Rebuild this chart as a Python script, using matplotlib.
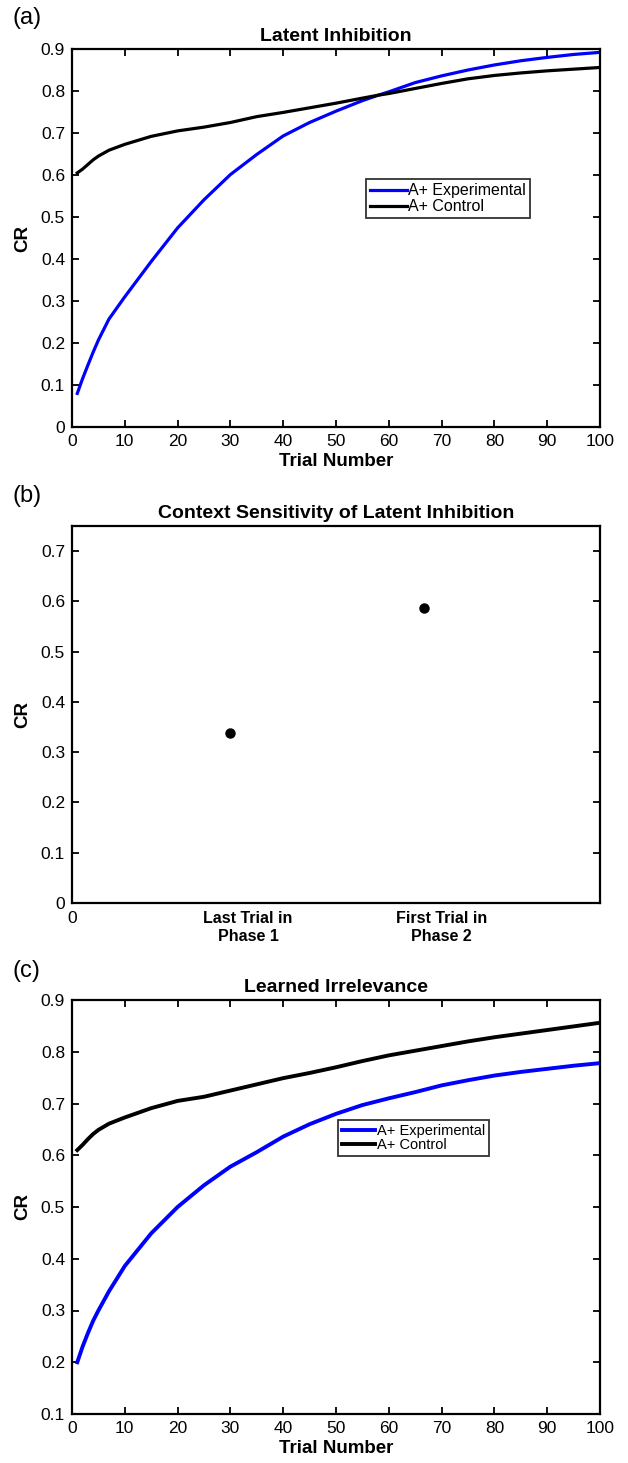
import matplotlib.pyplot as plt
from matplotlib.ticker import FuncFormatter

plt.rcParams['font.family'] = ['Liberation Sans', 'DejaVu Sans']

# (a) Latent Inhibition
trials_a = [1, 2, 3, 4, 5, 7, 10, 15, 20, 25, 30, 35, 40, 45, 50, 55, 58, 60,
            65, 70, 75, 80, 85, 90, 95, 100]
li_exp = [0.080, 0.115, 0.147, 0.178, 0.207, 0.257, 0.310, 0.394, 0.474,
          0.541, 0.601, 0.649, 0.693, 0.725, 0.752, 0.777, 0.790, 0.798,
          0.820, 0.836, 0.850, 0.862, 0.872, 0.880, 0.887, 0.892]
li_ctl = [0.605, 0.614, 0.625, 0.636, 0.645, 0.659, 0.673, 0.692, 0.705,
          0.714, 0.725, 0.739, 0.749, 0.760, 0.771, 0.783, 0.790, 0.794,
          0.806, 0.818, 0.829, 0.837, 0.843, 0.848, 0.852, 0.856]

# (b) Context sensitivity
phase_labels = ['Last Trial in\nPhase 1', 'First Trial in\nPhase 2']
phase_pos = [0.9, 2.0]
phase_cr = [0.338, 0.587]

# (c) Learned Irrelevance
trials_c = [1, 2, 3, 4, 5, 7, 10, 15, 20, 25, 30, 35, 40, 45, 50, 55, 60, 65,
            70, 75, 80, 85, 90, 95, 100]
lirr_exp = [0.200, 0.230, 0.256, 0.280, 0.300, 0.337, 0.386, 0.449, 0.500,
            0.542, 0.578, 0.606, 0.636, 0.660, 0.680, 0.697, 0.710, 0.722,
            0.735, 0.745, 0.754, 0.761, 0.767, 0.773, 0.778]
lirr_ctl = [0.610, 0.620, 0.631, 0.641, 0.649, 0.661, 0.673, 0.691, 0.705,
            0.713, 0.725, 0.737, 0.749, 0.759, 0.770, 0.782, 0.793, 0.802,
            0.811, 0.820, 0.828, 0.835, 0.842, 0.849, 0.856]

legend_labels = ['A+ Experimental', 'A+ Control']

W, H = 628, 1463
fig = plt.figure(figsize=(W / 100, H / 100), dpi=100)


def px_axes(left, top, right, bottom):
    return fig.add_axes([left / W, 1 - bottom / H, (right - left) / W, (bottom - top) / H])


def style(ax):
    ax.tick_params(direction='in', top=True, right=True, length=5, width=1.3,
                   labelsize=12.5, pad=5)
    for s in ax.spines.values():
        s.set_linewidth(1.6)


yfmt = FuncFormatter(lambda v, p: '0' if abs(v) < 1e-9 else f'{v:.1f}')

# ---- panel (a)
ax1 = px_axes(72, 49, 600, 427)
ax1.plot(trials_a, li_exp, color='#0000ff', lw=2.3, label=legend_labels[0])
ax1.plot(trials_a, li_ctl, color='black', lw=2.3, label=legend_labels[1])
ax1.set_xlim(0, 100)
ax1.set_ylim(0, 0.9)
ax1.set_xticks(range(0, 101, 10))
ax1.set_yticks([i / 10 for i in range(10)])
ax1.yaxis.set_major_formatter(yfmt)
style(ax1)
ax1.set_title('Latent Inhibition', fontsize=14, fontweight='bold', pad=6)
ax1.set_xlabel('Trial Number', fontsize=13.5, fontweight='bold', labelpad=3)
ax1.set_ylabel('CR', fontsize=13.5, fontweight='bold', labelpad=7)
leg = ax1.legend(loc='upper left', bbox_to_anchor=(0.557, 0.655), borderaxespad=0,
                 fontsize=11.5, frameon=True, fancybox=False, edgecolor='black',
                 handlelength=2.3, handletextpad=0.1, labelspacing=0.05,
                 borderpad=0.25)
leg.get_frame().set_linewidth(1.3)

# ---- panel (b)
ax2 = px_axes(72, 526, 600, 903)
ax2.plot(phase_pos, phase_cr, 'o', color='black', markersize=6.5, linestyle='none')
ax2.set_xlim(0, 3)
ax2.set_ylim(0, 0.75)
ax2.set_xticks([0, 1.0, 2.1])
ax2.set_xticklabels(['0'] + phase_labels)
ax2.set_yticks([i / 10 for i in range(8)])
ax2.yaxis.set_major_formatter(yfmt)
style(ax2)
ax2.tick_params(axis='x', length=0, pad=6)
for t in ax2.get_xticklabels()[1:]:
    t.set_fontweight('bold')
    t.set_fontsize(11.5)
ax2.set_title('Context Sensitivity of Latent Inhibition', fontsize=14,
              fontweight='bold', pad=6)
ax2.set_ylabel('CR', fontsize=13.5, fontweight='bold', labelpad=7)

# ---- panel (c)
ax3 = px_axes(72, 1000, 600, 1414)
ax3.plot(trials_c, lirr_exp, color='#0000ff', lw=2.8, label=legend_labels[0])
ax3.plot(trials_c, lirr_ctl, color='black', lw=2.8, label=legend_labels[1])
ax3.set_xlim(0, 100)
ax3.set_ylim(0.1, 0.9)
ax3.set_xticks(range(0, 101, 10))
ax3.set_yticks([i / 10 for i in range(1, 10)])
ax3.yaxis.set_major_formatter(yfmt)
style(ax3)
ax3.set_title('Learned Irrelevance', fontsize=14, fontweight='bold', pad=6)
ax3.set_xlabel('Trial Number', fontsize=13.5, fontweight='bold', labelpad=3)
ax3.set_ylabel('CR', fontsize=13.5, fontweight='bold', labelpad=7)
leg = ax3.legend(loc='upper left', bbox_to_anchor=(0.504, 0.71), borderaxespad=0,
                 fontsize=10.5, frameon=True, fancybox=False, edgecolor='black',
                 handlelength=2.3, handletextpad=0.1, labelspacing=0.05,
                 borderpad=0.25)
leg.get_frame().set_linewidth(1.3)

# panel letters
for lab, top in [('(a)', 7), ('(b)', 485), ('(c)', 960)]:
    fig.text(12 / W, 1 - top / H, lab, fontsize=17, va='top', ha='left')

fig.savefig('out.png', dpi=100)
